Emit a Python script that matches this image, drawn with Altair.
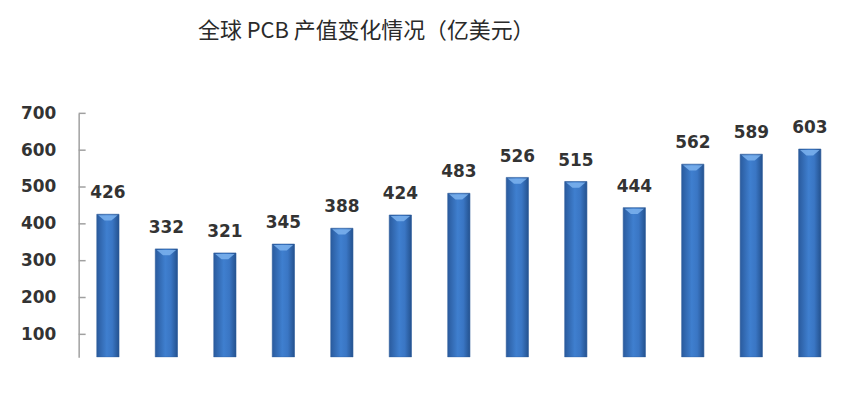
import altair as alt
import pandas as pd

years = [str(i) for i in range(1, 14)]
values = [426, 332, 321, 345, 388, 424, 483, 526, 515, 444, 562, 589, 603]
y_ticks = [100, 200, 300, 400, 500, 600, 700]

df = pd.DataFrame({"idx": years, "value": values})
tick_df = pd.DataFrame({"t": y_ticks})

grad = alt.Gradient(
    gradient="linear",
    stops=[
        alt.GradientStop(color="#2a5b9e", offset=0),
        alt.GradientStop(color="#3f7fcf", offset=0.45),
        alt.GradientStop(color="#3a76c4", offset=0.7),
        alt.GradientStop(color="#24528f", offset=1),
    ],
    x1=0, x2=1, y1=0, y2=0,
)

x = alt.X("idx:N", sort=years, axis=None,
          scale=alt.Scale(paddingInner=0.62, paddingOuter=0.31))
y_scale = alt.Scale(domain=[38, 700], zero=False, nice=False)

bars = alt.Chart(df).mark_bar(color=grad, stroke="#2a5a9a", strokeWidth=0.6, clip=True).encode(
    x=x,
    y=alt.Y("value:Q", scale=y_scale,
            axis=alt.Axis(values=y_ticks, title=None, grid=False, domainColor="#a0a0a0",
                          domainWidth=1.5, ticks=False,
                          labelFont="DejaVu Sans", labelFontWeight="bold", labelFontSize=17,
                          labelColor="#333333", labelPadding=23)),
    y2=alt.datum(38),
)

caps = alt.Chart(df).mark_point(
    shape="M-1,0L1,0L0.35,0.55L-0.35,0.55Z", filled=True, color="#7db3ee",
    opacity=0.85, size=380, strokeWidth=0,
).encode(x=x, y=alt.Y("value:Q", scale=y_scale), yOffset=alt.value(1))

ticks = alt.Chart(tick_df).mark_rule(color="#a0a0a0", strokeWidth=1.5).encode(
    y=alt.Y("t:Q", scale=y_scale),
    x=alt.value(0),
    x2=alt.value(7),
)

labels = alt.Chart(df).mark_text(
    font="DejaVu Sans", fontWeight="bold", fontSize=17, color="#333333",
    baseline="bottom", dy=-12,
).encode(x=x, y=alt.Y("value:Q", scale=y_scale), text="value:Q")

chart = (bars + caps + ticks + labels).properties(
    width=764, height=245,
    title=alt.TitleParams("全球 PCB 产值变化情况（亿美元）", font="Noto Sans CJK SC",
                          fontSize=22, fontWeight="normal", color="#2a2a2a",
                          anchor="start", frame="group", dx=120, offset=62),
    padding={"left": 12, "top": 11, "right": 5, "bottom": 5},
).configure(background="white").configure_view(strokeWidth=0, stroke="transparent")

chart.save("out.html", embed_options={"renderer": "svg", "actions": False})
